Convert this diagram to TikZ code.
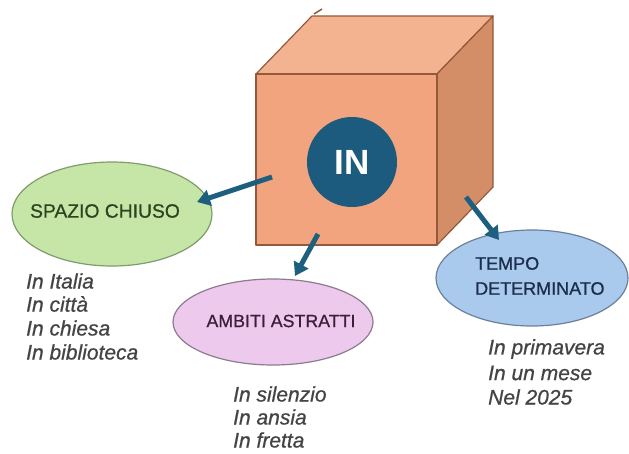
\documentclass[tikz,border=0pt]{standalone}
\usepackage{fontspec}
\setmainfont{Liberation Sans}
\newfontfamily\medfont[FakeBold=0.7]{Liberation Sans}
\usetikzlibrary{shapes.geometric,arrows.meta}
\definecolor{front}{HTML}{F1A47D}
\definecolor{topf}{HTML}{F3B290}
\definecolor{side}{HTML}{D38E68}
\definecolor{edge}{HTML}{93593A}
\definecolor{inblue}{HTML}{1C5B7E}
\definecolor{arr}{HTML}{1E5E7E}
\definecolor{gfill}{HTML}{C6E6A8}
\definecolor{gline}{HTML}{7E9C6C}
\definecolor{gtext}{HTML}{2C4420}
\definecolor{pfill}{HTML}{EDC9EE}
\definecolor{pline}{HTML}{8C7C8C}
\definecolor{ptext}{HTML}{3A1E3A}
\definecolor{bfill}{HTML}{A9CAEC}
\definecolor{bline}{HTML}{6C809C}
\definecolor{btext}{HTML}{1C2C4C}
\definecolor{listc}{HTML}{444444}
\tikzset{
  face/.style={draw=edge, line width=1.2pt, line join=round},
  oval/.style={ellipse, draw, line width=1.2pt, inner sep=0pt},
  ovaltext/.style={inner sep=0pt, align=left},
  conn/.style={draw=arr, line width=5pt, -{Triangle[length=13pt,width=16pt]}},
  listtext/.style={anchor=west, inner sep=0pt, text=listc,
    font=\fontsize{21}{24}\selectfont\medfont\itshape}
}
\begin{document}
\begin{tikzpicture}[x=1pt,y=-1pt]
\useasboundingbox (0,0) rectangle (629,453);
\fill[white] (0,0) rectangle (629,453);
% cube
\filldraw[face, fill=topf] (256,74) -- (312,16) -- (493,16) -- (437,74) -- cycle;
\filldraw[face, fill=side] (437,74) -- (493,16) -- (493,187) -- (437,245) -- cycle;
\filldraw[face, fill=front] (256,74) rectangle (437,245);
\draw[edge, line width=1.5pt] (314,14) -- (322,9);
\node[circle, fill=inblue, minimum size=90pt, inner sep=0pt, text=white,
  font=\fontsize{35}{35}\selectfont\bfseries] (in) at (352,162) {IN};
% ovals
\node[oval, fill=gfill, draw=gline, minimum width=200pt, minimum height=104pt] (sp) at (112,214) {};
\node[ovaltext, text=gtext, font=\fontsize{19.3}{22}\selectfont\medfont] (spt) at (105,211) {SPAZIO CHIUSO};
\node[oval, fill=pfill, draw=pline, minimum width=200pt, minimum height=86pt] (am) at (273,322) {};
\node[ovaltext, text=ptext, font=\fontsize{17.8}{21}\selectfont\medfont] (amt) at (281,321) {AMBITI ASTRATTI};
\node[oval, fill=bfill, draw=bline, minimum width=192pt, minimum height=96pt] (te) at (532,278) {};
\node[ovaltext, text=btext, font=\fontsize{18}{25}\selectfont\medfont, anchor=west] (tet) at (475,276) {TEMPO\\DETERMINATO};
% arrows
\coordinate (s1) at (272,177);
\coordinate (e1) at (197,202);
\coordinate (s2) at (318,234);
\coordinate (e2) at (295,276);
\coordinate (s3) at (466,197);
\coordinate (e3) at (499,240);
\draw[conn] (s1) -- (e1);
\draw[conn] (s2) -- (e2);
\draw[conn] (s3) -- (e3);
% lists
\node[listtext] (l1) at (26,281) {In Italia};
\node[listtext] (l2) at (26,304) {In città};
\node[listtext] (l3) at (26,328) {In chiesa};
\node[listtext] (l4) at (26,352) {In biblioteca};
\node[listtext] (m1) at (233,394) {In silenzio};
\node[listtext] (m2) at (233,417) {In ansia};
\node[listtext] (m3) at (233,440) {In fretta};
\node[listtext] (t1) at (488,349) {In primavera};
\node[listtext] (t2) at (488,373) {In un mese};
\node[listtext] (t3) at (488,397) {Nel 2025};
\end{tikzpicture}
\end{document}
